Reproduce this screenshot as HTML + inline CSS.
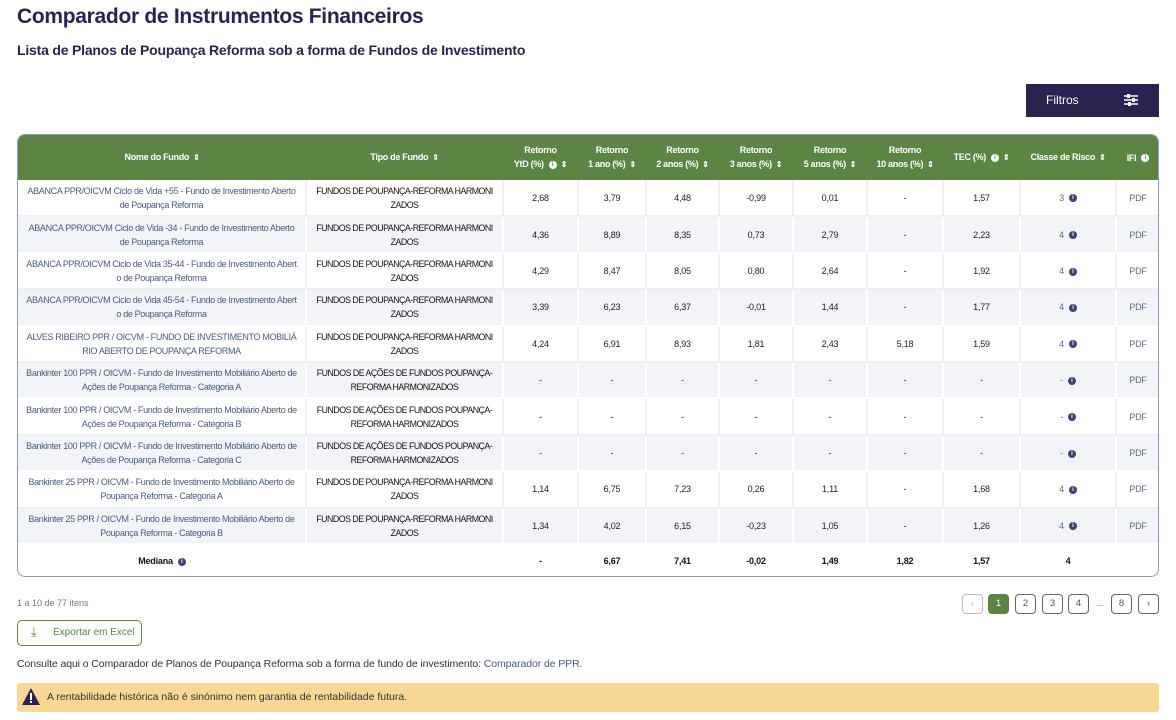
<!DOCTYPE html>
<html><head><meta charset="utf-8"><style>
*{box-sizing:border-box;margin:0;padding:0}
body{width:1176px;height:720px;background:#fff;font-family:"Liberation Sans",sans-serif;color:#222;position:relative;overflow:hidden}
.a{position:absolute}
h1{position:absolute;left:17px;top:5px;font-size:21px;font-weight:bold;color:#29244f;letter-spacing:-0.3px}
h2{position:absolute;left:17px;top:42px;font-size:14px;font-weight:bold;color:#29244f;letter-spacing:-0.2px}
.btn{left:1026px;top:84px;width:133px;height:33px;background:#29234f;color:#fff;font-size:12px}
.wrap{left:17px;top:134px;width:1142px;height:443px;border:1px solid #8a9bb5;border-radius:8px;overflow:hidden}
table{border-collapse:collapse;table-layout:fixed;width:1142px;font-size:9px;letter-spacing:-0.2px}
th{background:#5c8442;color:#fff;font-weight:bold;height:45px;font-size:9px;line-height:14px;letter-spacing:-0.3px}
td{height:36.4px;text-align:center;border-right:2px solid #eef0f4;border-bottom:2px solid #eef0f4;line-height:14px;padding:0 3px}
tr.g td{background:#f3f4f8;border-color:#fff}
td.n{color:#4a5a80;padding:0 8px;word-break:break-all;letter-spacing:-0.35px}
td.t{color:#111;padding:0 8px;word-break:break-all;letter-spacing:-0.5px;font-size:8.8px}
td.p{color:#5a6a90}
.i{display:inline-block;width:8px;height:8px;border-radius:50%;background:#3a4570;color:#fff;font-size:6px;line-height:8px;text-align:center;vertical-align:middle;margin-left:5px;font-weight:bold;letter-spacing:0}
th .i{background:#fff;color:#5c8442}
.s{font-size:8px;margin-left:4px}
.m td{font-weight:bold;border:none;color:#111;height:34px}
.pg{top:594px;width:21px;height:20px;border:1px solid #666;border-radius:4px;font-size:9.5px;text-align:center;line-height:18px;color:#555}
</style></head><body>
<h1>Comparador de Instrumentos Financeiros</h1>
<h2>Lista de Planos de Poupança Reforma sob a forma de Fundos de Investimento</h2>
<div class="a btn"><span class="a" style="left:20px;top:9px">Filtros</span>
<svg class="a" style="left:98px;top:10px" width="14" height="12"><g stroke="#fff" stroke-width="1.5"><line x1="0" y1="2" x2="14" y2="2"/><line x1="0" y1="6" x2="14" y2="6"/><line x1="0" y1="10" x2="14" y2="10"/></g><rect x="3" y="0" width="3" height="4" fill="#fff"/><rect x="8" y="4" width="3" height="4" fill="#fff"/><rect x="4" y="8" width="3" height="4" fill="#fff"/></svg></div>
<div class="a wrap"><table>
<colgroup><col style="width:288px"><col style="width:197px"><col style="width:75px"><col style="width:68px"><col style="width:73px"><col style="width:74px"><col style="width:74px"><col style="width:76px"><col style="width:77px"><col style="width:96px"><col style="width:44px"></colgroup>
<tr><th>Nome do Fundo<span class="s">⇕</span></th><th>Tipo de Fundo<span class="s">⇕</span></th><th>Retorno<br>YtD (%)<span class="i">i</span><span class="s">⇕</span></th><th>Retorno<br>1 ano (%)<span class="s">⇕</span></th><th>Retorno<br>2 anos (%)<span class="s">⇕</span></th><th>Retorno<br>3 anos (%)<span class="s">⇕</span></th><th>Retorno<br>5 anos (%)<span class="s">⇕</span></th><th>Retorno<br>10 anos (%)<span class="s">⇕</span></th><th>TEC (%)<span class="i">i</span><span class="s">⇕</span></th><th>Classe de Risco<span class="s">⇕</span></th><th>IFI<span class="i">i</span></th></tr>
<tr><td class="n">ABANCA PPR/OICVM Ciclo de Vida +55 - Fundo de Investimento Aberto de Poupança Reforma</td><td class="t">FUNDOS DE POUPANÇA-REFORMA HARMONIZADOS</td><td>2,68</td><td>3,79</td><td>4,48</td><td>-0,99</td><td>0,01</td><td>-</td><td>1,57</td><td class="p">3<span class="i">i</span></td><td class="p">PDF</td></tr>
<tr class="g"><td class="n">ABANCA PPR/OICVM Ciclo de Vida -34 - Fundo de Investimento Aberto de Poupança Reforma</td><td class="t">FUNDOS DE POUPANÇA-REFORMA HARMONIZADOS</td><td>4,36</td><td>8,89</td><td>8,35</td><td>0,73</td><td>2,79</td><td>-</td><td>2,23</td><td class="p">4<span class="i">i</span></td><td class="p">PDF</td></tr>
<tr><td class="n">ABANCA PPR/OICVM Ciclo de Vida 35-44 - Fundo de Investimento Aberto de Poupança Reforma</td><td class="t">FUNDOS DE POUPANÇA-REFORMA HARMONIZADOS</td><td>4,29</td><td>8,47</td><td>8,05</td><td>0,80</td><td>2,64</td><td>-</td><td>1,92</td><td class="p">4<span class="i">i</span></td><td class="p">PDF</td></tr>
<tr class="g"><td class="n">ABANCA PPR/OICVM Ciclo de Vida 45-54 - Fundo de Investimento Aberto de Poupança Reforma</td><td class="t">FUNDOS DE POUPANÇA-REFORMA HARMONIZADOS</td><td>3,39</td><td>6,23</td><td>6,37</td><td>-0,01</td><td>1,44</td><td>-</td><td>1,77</td><td class="p">4<span class="i">i</span></td><td class="p">PDF</td></tr>
<tr><td class="n">ALVES RIBEIRO PPR / OICVM - FUNDO DE INVESTIMENTO MOBILIÁRIO ABERTO DE POUPANÇA REFORMA</td><td class="t">FUNDOS DE POUPANÇA-REFORMA HARMONIZADOS</td><td>4,24</td><td>6,91</td><td>8,93</td><td>1,81</td><td>2,43</td><td>5,18</td><td>1,59</td><td class="p">4<span class="i">i</span></td><td class="p">PDF</td></tr>
<tr class="g"><td class="n">Bankinter 100 PPR / OICVM - Fundo de Investimento Mobiliário Aberto de Ações de Poupança Reforma - Categoria A</td><td class="t">FUNDOS DE AÇÕES DE FUNDOS POUPANÇA-REFORMA HARMONIZADOS</td><td>-</td><td>-</td><td>-</td><td>-</td><td>-</td><td>-</td><td>-</td><td class="p">-<span class="i">i</span></td><td class="p">PDF</td></tr>
<tr><td class="n">Bankinter 100 PPR / OICVM - Fundo de Investimento Mobiliário Aberto de Ações de Poupança Reforma - Categoria B</td><td class="t">FUNDOS DE AÇÕES DE FUNDOS POUPANÇA-REFORMA HARMONIZADOS</td><td>-</td><td>-</td><td>-</td><td>-</td><td>-</td><td>-</td><td>-</td><td class="p">-<span class="i">i</span></td><td class="p">PDF</td></tr>
<tr class="g"><td class="n">Bankinter 100 PPR / OICVM - Fundo de Investimento Mobiliário Aberto de Ações de Poupança Reforma - Categoria C</td><td class="t">FUNDOS DE AÇÕES DE FUNDOS POUPANÇA-REFORMA HARMONIZADOS</td><td>-</td><td>-</td><td>-</td><td>-</td><td>-</td><td>-</td><td>-</td><td class="p">-<span class="i">i</span></td><td class="p">PDF</td></tr>
<tr><td class="n">Bankinter 25 PPR / OICVM - Fundo de Investimento Mobiliário Aberto de Poupança Reforma - Categoria A</td><td class="t">FUNDOS DE POUPANÇA-REFORMA HARMONIZADOS</td><td>1,14</td><td>6,75</td><td>7,23</td><td>0,26</td><td>1,11</td><td>-</td><td>1,68</td><td class="p">4<span class="i">i</span></td><td class="p">PDF</td></tr>
<tr class="g"><td class="n">Bankinter 25 PPR / OICVM - Fundo de Investimento Mobiliário Aberto de Poupança Reforma - Categoria B</td><td class="t">FUNDOS DE POUPANÇA-REFORMA HARMONIZADOS</td><td>1,34</td><td>4,02</td><td>6,15</td><td>-0,23</td><td>1,05</td><td>-</td><td>1,26</td><td class="p">4<span class="i">i</span></td><td class="p">PDF</td></tr>
<tr class="m"><td>Mediana<span class="i">i</span></td><td></td><td>-</td><td>6,67</td><td>7,41</td><td>-0,02</td><td>1,49</td><td>1,82</td><td>1,57</td><td>4</td><td></td></tr>
</table></div>
<div class="a" style="left:17px;top:598px;font-size:9px;color:#777">1 a 10 de 77 itens</div>
<div class="a" style="left:17px;top:620px;width:125px;height:26px;border:1px solid #5c8442;border-radius:5px;color:#5c8442;font-size:10px"><span class="a" style="left:13px;top:3px;font-size:13px">⤓</span><span class="a" style="left:35px;top:6px">Exportar em Excel</span></div>
<div class="a" style="left:17px;top:658px;font-size:10.5px;color:#333;letter-spacing:-0.1px">Consulte aqui o Comparador de Planos de Poupança Reforma sob a forma de fundo de investimento: <span style="color:#4a5a80">Comparador de PPR.</span></div>
<div class="a" style="left:17px;top:683px;width:1142px;height:29px;background:#f9d895;border-radius:3px;font-size:10.5px;color:#333"><svg class="a" style="left:5px;top:5px" width="18" height="17"><polygon points="9,0 18,17 0,17" fill="#29234f"/><rect x="8" y="5" width="2" height="7" fill="#fff"/><rect x="8" y="13" width="2" height="2" fill="#fff"/></svg><span class="a" style="left:30px;top:8px">A rentabilidade histórica não é sinónimo nem garantia de rentabilidade futura.</span></div>
<div class="a pg" style="left:962px;border-color:#bbb;color:#bbb">‹</div>
<div class="a pg" style="left:988px;background:#5c8442;border-color:#5c8442;color:#fff">1</div>
<div class="a pg" style="left:1015px">2</div>
<div class="a pg" style="left:1042px">3</div>
<div class="a pg" style="left:1068px">4</div>
<div class="a" style="left:1096px;top:598px;font-size:9px;color:#777">...</div>
<div class="a pg" style="left:1111px">8</div>
<div class="a pg" style="left:1138px">›</div>
</body></html>
